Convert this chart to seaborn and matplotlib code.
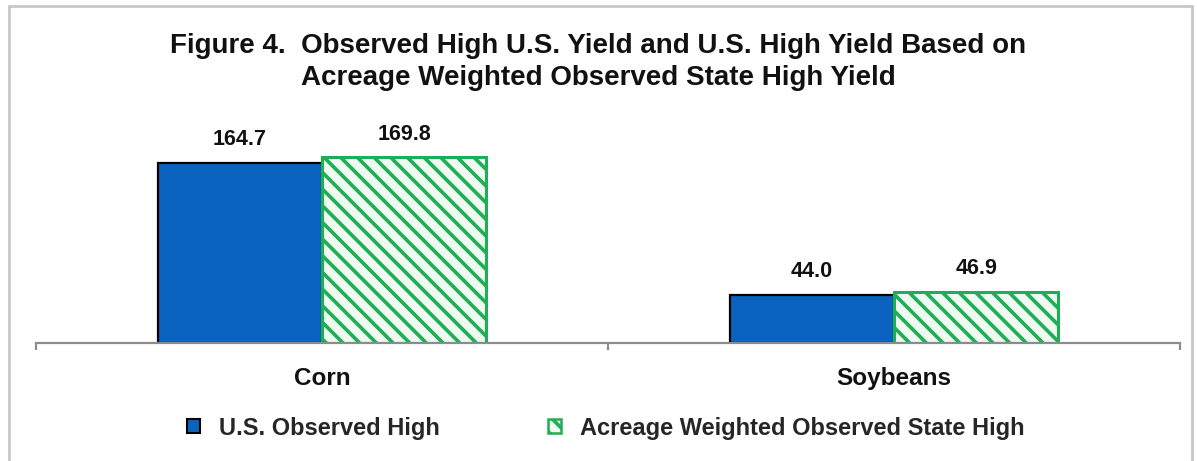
import matplotlib
matplotlib.use("Agg")
import matplotlib.pyplot as plt
import seaborn as sns
import pandas as pd
from matplotlib.patches import Patch
from matplotlib.lines import Line2D

categories = ["Corn", "Soybeans"]
series_names = ["U.S. Observed High", "Acreage Weighted Observed State High"]
us_observed = [164.7, 44.0]
acreage_weighted = [169.8, 46.9]
title = "Figure 4.  Observed High U.S. Yield and U.S. High Yield Based on\nAcreage Weighted Observed State High Yield"

df = pd.DataFrame({
    "Crop": categories * 2,
    "Series": [series_names[0]] * 2 + [series_names[1]] * 2,
    "Yield": us_observed + acreage_weighted,
})

sns.set_theme(style="white")
plt.rcParams["font.family"] = ["Liberation Sans", "DejaVu Sans"]
plt.rcParams["hatch.linewidth"] = 2.6

BLUE = "#0B63C0"
GREEN = "#1FAD55"
LIGHT = "#EEFAF0"

fig = plt.figure(figsize=(11.97, 4.61), dpi=100)
ax = fig.add_axes([36 / 1197, 1 - 343 / 461, (1180 - 36) / 1197, (343 - 124) / 461])

sns.barplot(data=df, x="Crop", y="Yield", hue="Series", order=categories,
            hue_order=series_names, palette=[BLUE, GREEN], width=0.575,
            saturation=1, legend=False, ax=ax)

conts = ax.containers
for bar in conts[0]:
    bar.set_facecolor(BLUE)
    bar.set_edgecolor("black")
    bar.set_linewidth(1.6)
for bar in conts[1]:
    bar.set_facecolor(LIGHT)
    bar.set_edgecolor(GREEN)
    bar.set_hatch("\\\\")
    bar.set_linewidth(2.2)

for c in conts:
    ax.bar_label(c, fmt="%.1f", padding=9, fontsize=15.5, fontweight="bold", color="#111111")

ax.set_ylim(0, 200)
ax.set_xlim(-0.5, 1.5)
ax.set_yticks([])
ax.set_xlabel("")
ax.set_ylabel("")
for s in ["top", "right", "left"]:
    ax.spines[s].set_visible(False)
ax.spines["bottom"].set_color("#8c8c8c")
ax.spines["bottom"].set_linewidth(1.6)
ax.set_xticks([0, 1])
ax.set_xticklabels(categories, fontsize=17.5, fontweight="bold", color="#111111")
ax.tick_params(axis="x", which="major", length=0, pad=17)
ax.set_xticks([-0.5, 0.5, 1.5], minor=True)
ax.tick_params(axis="x", which="minor", length=5, width=1.6, color="#8c8c8c", direction="out", bottom=True)
ax.patch.set_alpha(0)

fig.text(0.5, 1 - 62 / 461, title, ha="center", va="center", fontsize=20,
         fontweight="bold", color="#111111", linespacing=1.32)

handles = [
    Patch(facecolor=BLUE, edgecolor="black", linewidth=1.5),
    Patch(facecolor=LIGHT, edgecolor=GREEN, hatch="\\\\", linewidth=1.8),
]
fig.legend(handles, series_names, loc="center", bbox_to_anchor=(606 / 1197, 1 - 428 / 461),
           ncol=2, frameon=False, prop={"size": 17, "weight": "bold"},
           handlelength=0.55, handleheight=0.55, handletextpad=0.8, columnspacing=4.6)

# outer frame (left, top, right)
fig.add_artist(Line2D([9 / 1197, 9 / 1197], [0, 1 - 6 / 461], transform=fig.transFigure,
                      color="#c8c8c8", lw=2))
fig.add_artist(Line2D([9 / 1197, 1192 / 1197], [1 - 6 / 461, 1 - 6 / 461], transform=fig.transFigure,
                      color="#c8c8c8", lw=2))
fig.add_artist(Line2D([1192 / 1197, 1192 / 1197], [0, 1 - 6 / 461], transform=fig.transFigure,
                      color="#c8c8c8", lw=2))

fig.savefig("out.png", dpi=100, facecolor="white")
